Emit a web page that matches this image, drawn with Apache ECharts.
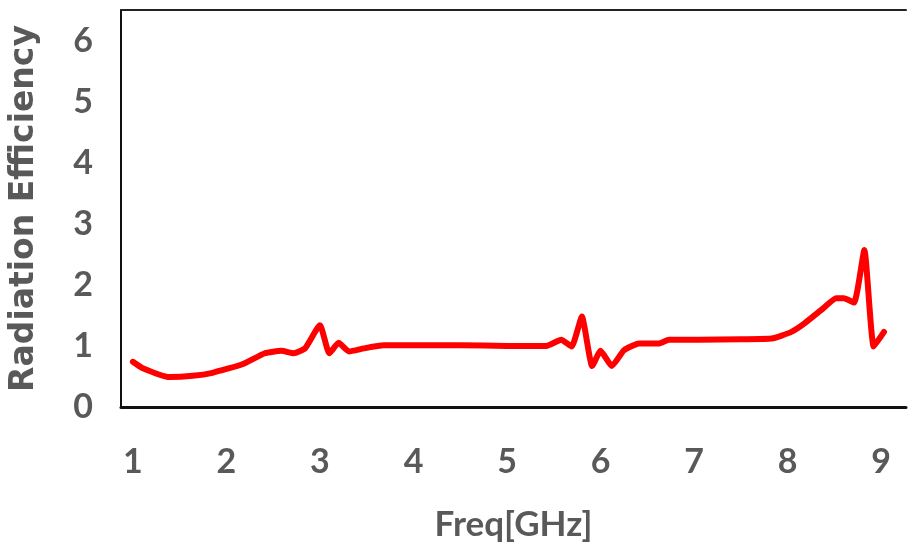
<!DOCTYPE html>
<html>
<head>
<meta charset="utf-8">
<script src="https://cdn.jsdelivr.net/npm/echarts@6/dist/echarts.min.js"></script>
<style>
html,body{margin:0;padding:0;background:#fff;}
#chart{width:909px;height:551px;}
</style>
</head>
<body>
<div id="chart"></div>
<script>
// Data
const freq = [1.0,1.1,1.39,1.64,1.85,2.17,2.41,2.59,2.72,2.84,3.0,3.10,3.20,3.31,3.47,3.68,3.97,4.5,5.0,5.42,5.58,5.69,5.80,5.91,6.0,6.12,6.25,6.41,6.62,6.73,7.05,7.5,7.83,8.04,8.18,8.36,8.52,8.60,8.71,8.82,8.92,9.03];
const eff  = [0.74,0.64,0.49,0.51,0.56,0.70,0.88,0.92,0.88,0.96,1.34,0.88,1.05,0.91,0.96,1.01,1.01,1.01,1.0,1.0,1.10,0.99,1.48,0.67,0.92,0.67,0.93,1.04,1.04,1.10,1.10,1.11,1.12,1.23,1.37,1.59,1.78,1.78,1.71,2.57,0.99,1.23];
const xTitle = 'Freq[GHz]';
const yTitle = 'Radiation Efficiency';

const chart = echarts.init(document.getElementById('chart'));
const labelColor = '#595959';
const intOnly = v => (Math.abs(v - Math.round(v)) < 1e-9 ? String(Math.round(v)) : '');

chart.setOption({
  animation: false,
  backgroundColor: '#ffffff',
  grid: { left: 118, right: 0, top: 10, bottom: 144, containLabel: false },
  xAxis: [{
    type: 'value',
    min: 0.873, max: 9.265, splitNumber: 8,
    name: xTitle, nameLocation: 'middle', nameGap: 100,
    nameTextStyle: { color: labelColor, fontFamily: 'Lato', fontWeight: 'bold', fontSize: 35 },
    axisLine: { show: true, onZero: false, lineStyle: { color: '#111', width: 3 } },
    axisTick: { show: false },
    splitLine: { show: false },
    axisLabel: { formatter: intOnly, color: labelColor, fontFamily: 'Lato', fontWeight: 'bold', fontSize: 34, margin: 38 }
  }, {
    type: 'value', position: 'top',
    min: 0.873, max: 9.265,
    axisLine: { show: true, onZero: false, lineStyle: { color: '#222', width: 2 } },
    axisTick: { show: false }, axisLabel: { show: false }, splitLine: { show: false }
  }],
  yAxis: {
    type: 'value', min: 0, max: 6.5, interval: 1,
    name: yTitle, nameLocation: 'middle', nameGap: 80,
    nameTextStyle: { color: labelColor, fontFamily: 'DejaVu Sans', fontWeight: 'bold', fontSize: 33 },
    axisLine: { show: true, onZero: false, lineStyle: { color: '#111', width: 2 } },
    axisTick: { show: false },
    splitLine: { show: false },
    axisLabel: { formatter: intOnly, color: labelColor, fontFamily: 'Lato', fontWeight: 'bold', fontSize: 34, margin: 28 }
  },
  series: [{
    type: 'line',
    data: freq.map((f, i) => [f, eff[i]]),
    showSymbol: false,
    smooth: 0.15,
    lineStyle: { color: '#ff0000', width: 6, join: 'round', cap: 'round' },
    itemStyle: { color: '#ff0000' }
  }]
});
</script>
</body>
</html>
